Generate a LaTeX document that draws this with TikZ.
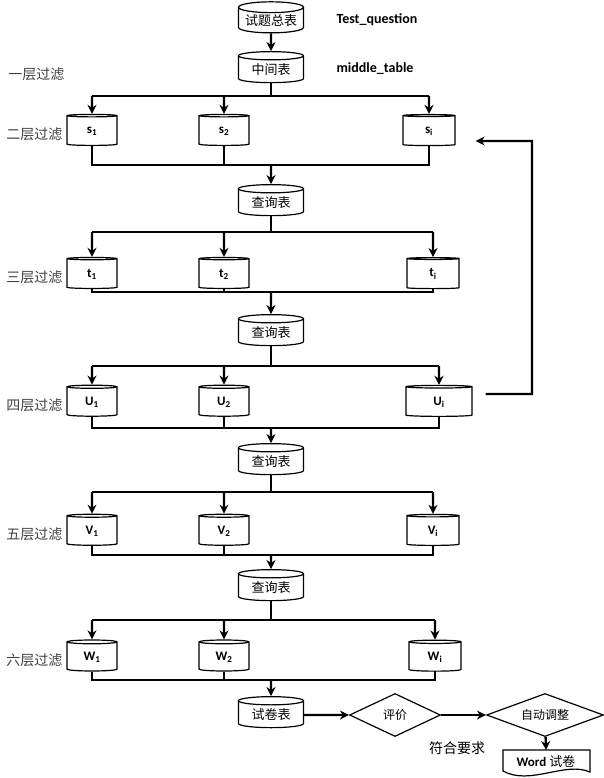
\documentclass[tikz,border=0pt]{standalone}
\usepackage{fontspec}
\newfontfamily\cjk{Noto Sans CJK SC}
\setsansfont{Carlito}
\usetikzlibrary{calc}
\usetikzlibrary{arrows.meta}
\usetikzlibrary{shapes.geometric}

\begin{document}
\begin{tikzpicture}[x=1pt, y=-1pt,
  db/.style={cylinder, shape border rotate=90, aspect=.2, draw, line width=1.2pt, fill=white,
    minimum width=50pt, minimum height=31pt, inner sep=1pt, font=\sffamily\bfseries\fontsize{13}{14}\selectfont},
  qdb/.style={db, minimum width=65pt, font=\cjk\fontsize{13}{14}\selectfont},
  judge/.style={diamond, draw, line width=1.2pt, fill=white, inner sep=0pt, aspect=2.2,
    font=\cjk\fontsize{12}{13}\selectfont},
  lvl/.style={anchor=east, text=black!75, font=\cjk\fontsize{14}{15}\selectfont},
  tag/.style={anchor=west, font=\sffamily\bfseries\fontsize{14}{15}\selectfont},
  lnk/.style={line width=1.2pt},
  bar/.style={line width=2.4pt},
  flow/.style={bar, -{Stealth[length=9pt, width=9pt]}}]
\useasboundingbox (0,0) rectangle (604,778);
\node[qdb] (tot) at (271,21) {试题总表};
\node[qdb] (q0) at (271,70) {中间表};
\draw[flow] (tot) -- (q0);
\node[tag] (n1) at (333,20) {Test\_question};
\node[tag] (n2) at (333,69) {middle\_table};
\node[lvl] (l0) at (68,74) {一层过滤};
\foreach \r/\ya/\yc/\yb/\yq/\lab/\sym/\xc/\wc in {
  1/96/131/165/203/二层过滤/s/429/52,
  2/232/274/292/333/三层过滤/t/433/52,
  3/366/402/428/462/四层过滤/U/439/66,
  4/492/531/555/588/五层过滤/V/433/52,
  5/620/657/680/715/六层过滤/W/435/52}{
  \pgfmathtruncatemacro\p{\r-1}
  \node[db] (c\r1) at (92,\yc) {\sym\textsubscript{1}};
  \node[db] (c\r2) at (224,\yc) {\sym\textsubscript{2}};
  \node[db, minimum width=\wc] (c\r3) at (\xc,\yc) {\sym\textsubscript{i}};
  \node[lvl] (l\r) at (66,\yc+3) {\lab};
  \ifnum\r=5
    \node[qdb] (q\r) at (271,\yq) {试卷表};
  \else
    \node[qdb] (q\r) at (271,\yq) {查询表};
  \fi
  \coordinate (a\r) at (271,\ya);
  \coordinate (b\r) at (271,\yb);
  \draw[lnk] (q\p) -- (a\r);
  \draw[bar] (c\r1 |- a\r) -- (c\r3 |- a\r);
  \foreach \j in {1,2,3}
    \draw[flow] (c\r\j |- a\r) -- (c\r\j);
  \draw[lnk] (c\r1) |- (b\r) -| (c\r3);
  \draw[lnk] (c\r2) -- (c\r2 |- b\r);
  \draw[flow] (b\r) -- (q\r);
}
\coordinate (fb) at (532,141);
\draw[flow] ($(c33.east)+(13,-8)$) -| (fb) -- ($(c13.east)+(20,10)$);
\node[judge, minimum width=91pt, minimum height=43pt] (ev) at (395,715) {评价};
\node[judge, minimum width=117pt, minimum height=43pt] (adj) at (545,715) {自动调整};
\draw[flow] (q5) -- (ev);
\draw[flow] (ev) -- (adj);
\node[font=\cjk\fontsize{14}{15}\selectfont] (ok) at (457,748) {符合要求};
\draw[lnk, fill=white] (503,750) -- (590,750) -- (590,772) .. controls (565,761) and (530,786) .. (503,771) -- cycle;
\node[font=\fontsize{13}{14}\selectfont] (wd) at (546,762) {\sffamily\bfseries Word \cjk\mdseries 试卷};
\coordinate (wtop) at (546,750);
\draw[flow] (adj) -- (wtop);
\end{tikzpicture}
\end{document}
